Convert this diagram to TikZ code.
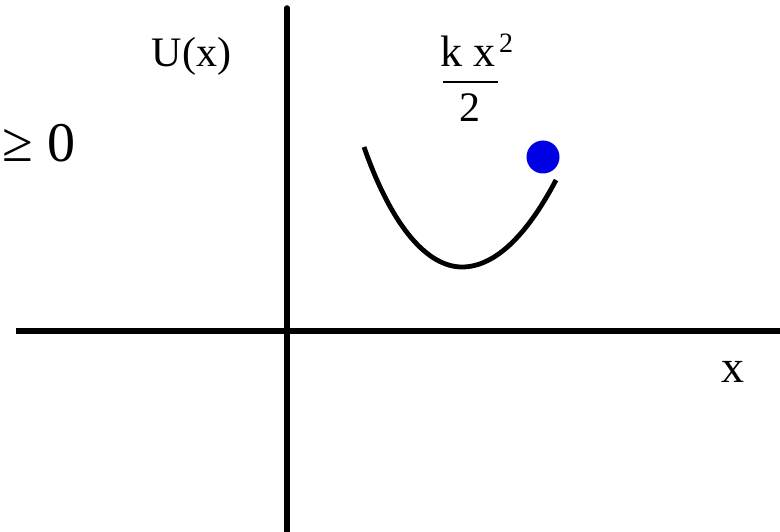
\documentclass[tikz,border=0pt]{standalone}
\usepackage{fontspec}
\setmainfont{Liberation Serif}
\begin{document}
\begin{tikzpicture}[x=1pt,y=-1pt,
  axis/.style={line width=5.5pt,black},
  curve/.style={line width=4.8pt,black},
  lbl/.style={inner sep=0pt,outer sep=0pt,text=black}]
\useasboundingbox (0,0) rectangle (780,532);
\fill[white] (0,0) rectangle (780,532);
% axes
\coordinate (ytop) at (287,8);
\coordinate (ybot) at (287,532);
\coordinate (xl) at (16,331);
\coordinate (xr) at (780,331);
\draw[axis,line cap=round] (ybot) -- (ytop);
\draw[axis] (xl) -- (xr);
% labels
\node[lbl,anchor=base east,font=\fontsize{56}{56}\selectfont] (geq) at (75,162) {≥ 0};
\node[lbl,anchor=base east,font=\fontsize{42}{42}\selectfont] (ux) at (231,67) {U(x)};
\node[lbl,anchor=base west,font=\fontsize{44}{44}\selectfont] (num) at (440,67) {k x};
\node[lbl,anchor=base west,font=\fontsize{28}{28}\selectfont] (sup) at (499,53) {2};
\coordinate (fl) at (443,82);
\coordinate (fr) at (498,82);
\draw[line width=2pt] (fl) -- (fr);
\node[lbl,anchor=base,font=\fontsize{42}{42}\selectfont] (den) at (470,122) {2};
\node[lbl,anchor=base,font=\fontsize{46}{46}\selectfont] (xlab) at (733,382) {x};
% parabola
\coordinate (pl) at (364,147);
\coordinate (pv) at (462,267);
\coordinate (pr) at (556,180);
\draw[curve] (pl) .. controls (393,230) and (429,267) .. (pv)
             .. controls (494,267) and (526,237) .. (pr);
% ball
\fill[blue!90!black] (543,157) circle (16.5);
\end{tikzpicture}
\end{document}
